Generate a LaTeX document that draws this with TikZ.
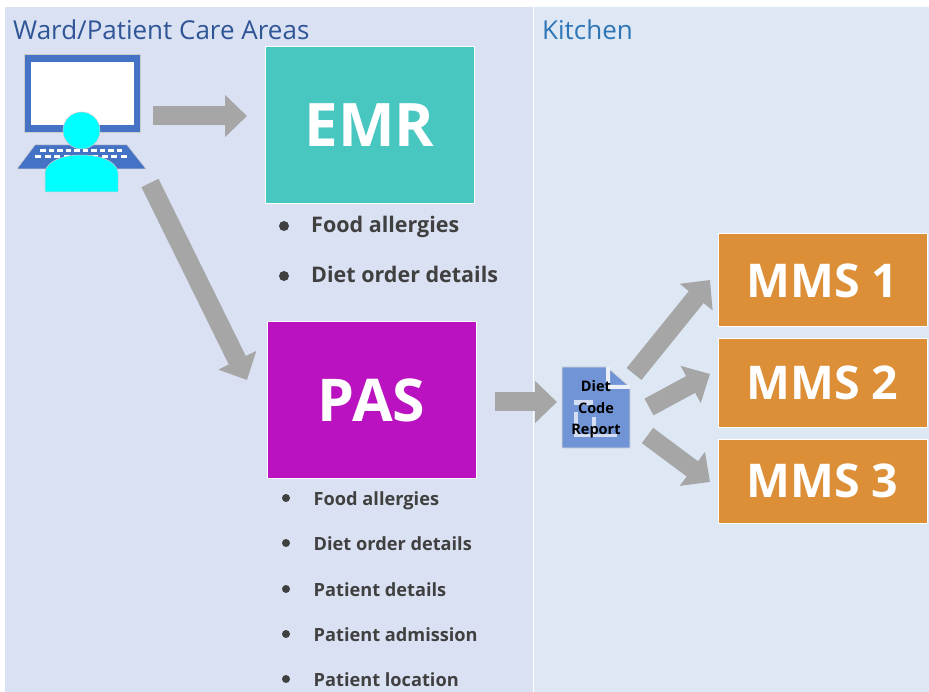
\documentclass[tikz,border=0pt]{standalone}
\usepackage{fontspec}
\setmainfont{Open Sans}
\usetikzlibrary{arrows.meta}
\definecolor{panelL}{HTML}{DAE1F2}
\definecolor{panelR}{HTML}{DEE8F5}
\definecolor{emrc}{HTML}{48C6C0}
\definecolor{pasc}{HTML}{BA12C0}
\definecolor{mmsc}{HTML}{DD8F38}
\definecolor{arrowc}{HTML}{A6A6A6}
\definecolor{iconb}{HTML}{4472C4}
\definecolor{docb}{HTML}{7094D6}
\definecolor{cyanp}{HTML}{00FFFF}
\definecolor{bodytxt}{HTML}{404040}
\definecolor{wardc}{HTML}{2F5597}
\definecolor{kitchenc}{HTML}{2E75B6}
\tikzset{
  x=1pt,y=-1pt,
  sysbox/.style={draw=white,line width=1pt,inner sep=0pt,text=white,font=\bfseries},
  blockarrow/.style={draw=arrowc,line width=19pt,-{Triangle[length=22pt,width=41pt]}},
  listitem/.style={anchor=base west,inner sep=0pt,text=bodytxt,font=\bfseries\fontsize{21.5}{24}\selectfont},
  listitemsmall/.style={listitem,font=\bfseries\fontsize{18.2}{21}\selectfont},
  bullet/.style={circle,fill=bodytxt,inner sep=0pt,minimum size=10pt},
  title/.style={anchor=west,inner sep=0pt,font=\fontsize{26}{30}\selectfont},
  doclabel/.style={inner sep=0pt,text=black,font=\fontsize{14.5}{16}\selectfont\bfseries},
  iconline/.style={draw=black!20,line width=.5pt}
}
\begin{document}
\begin{tikzpicture}
\useasboundingbox (0,0) rectangle (929,692);
\fill[white] (0,0) rectangle (929,692);
\fill[panelL] (5,7) rectangle (533,692);
\fill[panelR] (534,7) rectangle (929,692);
\node[title,text=wardc] (wardtitle) at (13,30) {Ward/Patient Care Areas};
\node[title,text=kitchenc] (kitchentitle) at (542,30) {Kitchen};
% computer user icon
\fill[iconb,iconline] (24,54) rectangle (140,132);
\fill[white] (31,62) rectangle (134,125);
\fill[iconb,iconline] (35,145) -- (127,145) -- (146,169) -- (17,169) -- cycle;
\foreach \kx in {40,48.5,...,118} \fill[white] (\kx,149) rectangle +(5.5,3.5);
\foreach \kx in {35,44.5,...,125} \fill[white] (\kx,155) rectangle +(6,3.5);
\fill[cyanp,iconline] (81.5,130.5) circle (18.5);
\fill[cyanp,iconline] (45,192) -- (45,172) .. controls (47,160) and (65,155) .. (81.5,155) .. controls (98,155) and (116,160) .. (118,172) -- (118,192) -- cycle;
% system boxes
\node[sysbox,fill=emrc,minimum width=209pt,minimum height=157pt,font=\bfseries\fontsize{60}{62}\selectfont] (emr) at (369.5,125.5) {EMR};
\node[sysbox,fill=pasc,minimum width=209pt,minimum height=156pt,font=\bfseries\fontsize{59}{61}\selectfont] (pas) at (371.5,400) {PAS};
\node[sysbox,fill=mmsc,minimum width=209pt,minimum height=93pt,font=\bfseries\fontsize{46.5}{49}\selectfont] (mmsa) at (822.5,280.5) {MMS 1};
\node[sysbox,fill=mmsc,minimum width=209pt,minimum height=88pt,font=\bfseries\fontsize{46.5}{49}\selectfont] (mmsb) at (822.5,383) {MMS 2};
\node[sysbox,fill=mmsc,minimum width=209pt,minimum height=84pt,font=\bfseries\fontsize{46.5}{49}\selectfont] (mmsc) at (822.5,481) {MMS 3};
% lists
\node[bullet] (ba) at (284,226) {};
\node[listitem] (la) at (311,233) {Food allergies};
\node[bullet] (bb) at (284,276) {};
\node[listitem] (lb) at (311,283) {Diet order details};
\node[bullet,minimum size=8pt] (pa) at (286,498) {};
\node[listitemsmall] (qa) at (313.5,505) {Food allergies};
\node[bullet,minimum size=8pt] (pb) at (286,543) {};
\node[listitemsmall] (qb) at (313.5,550) {Diet order details};
\node[bullet,minimum size=8pt] (pc) at (286,589) {};
\node[listitemsmall] (qc) at (313.5,596) {Patient details};
\node[bullet,minimum size=8pt] (pd) at (286,634) {};
\node[listitemsmall] (qd) at (313.5,641) {Patient admission};
\node[bullet,minimum size=8pt] (pe) at (286,679) {};
\node[listitemsmall] (qe) at (313.5,686) {Patient location};
% document icon
\fill[docb,draw=black!15,line width=.7pt] (562,367) -- (607,367) -- (630,387) -- (630,448) -- (562,448) -- cycle;
\fill[white!85!docb] (606,367) -- (610,367) -- (610,385) -- (630,385) -- (630,389) -- (606,389) -- cycle;
\fill[white!70!docb] (574,400) rectangle (593,405);
\fill[white!70!docb] (574,412) rectangle (578,436);
\fill[white!70!docb] (592,417) rectangle (596,436);
\fill[white!70!docb] (574,434) rectangle (617,437);
\node[doclabel] (diet) at (596,386) {Diet};
\node[doclabel] (code) at (596,408) {Code};
\node[doclabel] (report) at (596,431) {Report};
% arrows
\coordinate (icontail) at (153,116);
\coordinate (icontailb) at (150,183);
\coordinate (emrin) at (247,116);
\coordinate (pasin) at (247,380);
\coordinate (pasout) at (495,402);
\coordinate (docin) at (557,402);
\coordinate (docouta) at (634,374);
\coordinate (docoutb) at (649,407);
\coordinate (docoutc) at (647.5,435.5);
\coordinate (mmsain) at (710,280);
\coordinate (mmsbin) at (710,374);
\coordinate (mmscin) at (710,482);
\draw[blockarrow] (icontail) -- (emrin);
\draw[blockarrow] (icontailb) -- (pasin);
\draw[blockarrow] (pasout) -- (docin);
\draw[blockarrow] (docouta) -- (mmsain);
\draw[blockarrow] (docoutb) -- (mmsbin);
\draw[blockarrow] (docoutc) -- (mmscin);
\end{tikzpicture}
\end{document}
